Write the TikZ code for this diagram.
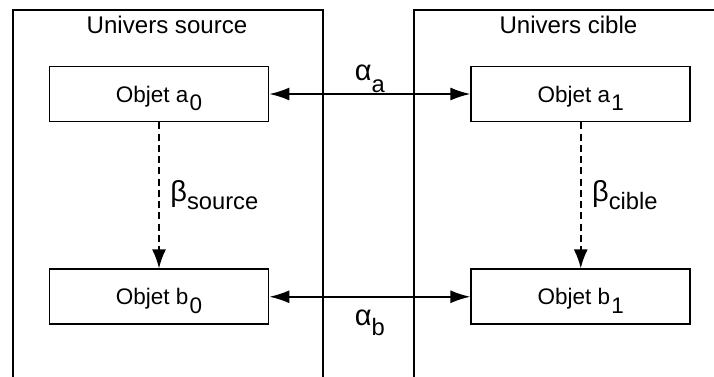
\documentclass[tikz,border=0pt]{standalone}
\usepackage{fontspec}
\setmainfont{Liberation Sans}
\usetikzlibrary{positioning, arrows.meta}

\newcommand{\objsub}[1]{\kern0.8pt\raisebox{-5pt}[0pt][0pt]{#1}}
\newcommand{\gsub}[2][6.5pt]{\raisebox{-#1}{\fontsize{13.5}{16}\selectfont #2}}

\begin{document}
\begin{tikzpicture}[
                node distance=2.92cm and 4.02cm,
                objbox/.style={
                        draw,
                        line width=1pt,
                        minimum width=4.38cm,
                        minimum height=1.1cm,
                        text depth=0pt,
                        font=\fontsize{12.8}{15}\selectfont
                    },
                unititle/.style={anchor=base, font=\fontsize{13.7}{16}\selectfont},
                greek/.style={inner sep=0pt, font=\fontsize{16.5}{19}\selectfont},
                frame/.style={line width=1pt},
                link/.style={{Latex[length=4mm,width=2.6mm]}-{Latex[length=4mm,width=2.6mm]}, line width=1pt},
                morph/.style={-{Latex[length=3.8mm,width=2.8mm]}, line width=1pt, dash pattern=on 4pt off 2.4pt}
            ]

            \useasboundingbox (0,0) rectangle (14.28,7.52);

            % the two universes
            \draw[frame] (0.26,-0.3) rectangle (6.46,7.32);
            \draw[frame] (8.28,-0.3) rectangle (14.6,7.32);
            \node[unititle] (src) at (3.34,6.86) {Univers source};
            \node[unititle] (tgt) at (11.37,6.86) {Univers cible};


            \node[objbox] (a0) at (3.18,5.64) {Objet a\objsub{0}};
            \node[objbox] (a1) [right=of a0] {Objet a\objsub{1}};
            \node[objbox] (b0) [below=of a0] {Objet b\objsub{0}};
            \node[objbox] (b1) [below=of a1] {Objet b\objsub{1}};


            \draw[link] (a0)--(a1) node[midway, above=0pt, greek] (alphaA) {α\gsub[7pt]{a}};
            \draw[link] (b0)--(b1) node[midway, below=6.8pt, greek] (alphaB) {α\gsub[6pt]{b}};
            \draw[morph] (a0)--(b0) node[midway, right=6pt, greek] (betaS) {β\gsub[4.5pt]{source}};
            \draw[morph] (a1)--(b1) node[midway, right=6pt, greek] (betaC) {β\gsub[4.5pt]{cible}};


        \end{tikzpicture}
\end{document}
